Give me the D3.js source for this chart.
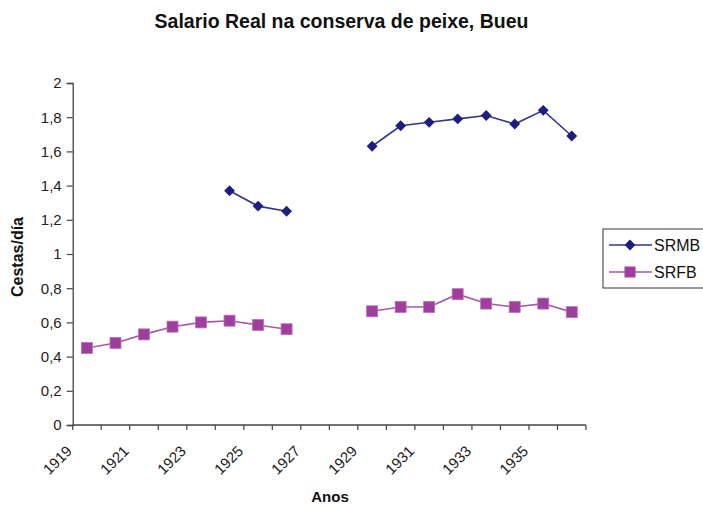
<!DOCTYPE html>
<html><head><meta charset="utf-8">
<script src="https://cdnjs.cloudflare.com/ajax/libs/d3/7.8.5/d3.min.js"></script>
<style>body{margin:0;background:#fff}svg{display:block}text{font-family:"Liberation Sans",Arial,sans-serif}</style>
</head><body>
<script>
const years = [1919,1920,1921,1922,1923,1924,1925,1926,1927,1928,1929,1930,1931,1932,1933,1934,1935,1936];
const yearLabels = ["1919","1921","1923","1925","1927","1929","1931","1933","1935"];
const srmb = [null,null,null,null,null,1.37,1.28,1.25,null,null,1.63,1.75,1.77,1.79,1.81,1.76,1.84,1.69];
const srfb = [0.45,0.48,0.53,0.575,0.60,0.61,0.585,0.56,null,null,0.665,0.69,0.69,0.765,0.71,0.69,0.71,0.66];
const yTicks = [0,0.2,0.4,0.6,0.8,1,1.2,1.4,1.6,1.8,2];
const seriesNames = ["SRMB","SRFB"];

const W=703,H=509;
const svg=d3.select("body").append("svg").attr("width",W).attr("height",H);
const x=d3.scaleBand().domain(years).range([72.7,586]).padding(0);
const y=d3.scaleLinear().domain([0,2]).range([425,83]);
const axisColor="#444";
const fmt=d=>String(d).replace(".",",");

// y axis
const ya=svg.append("g").attr("transform","translate(72.7,0)")
  .call(d3.axisLeft(y).tickValues(yTicks).tickSize(6).tickPadding(5).tickFormat(fmt));
ya.select(".domain").attr("stroke",axisColor).attr("stroke-width",1.3);
ya.selectAll(".tick line").attr("stroke",axisColor).attr("stroke-width",1.2);
ya.selectAll(".tick text").attr("font-size",15).attr("fill","#222");

// x axis
const xa=svg.append("g").attr("transform","translate(0,425)");
xa.append("line").attr("x1",x.range()[0]).attr("x2",x.range()[1]).attr("stroke",axisColor).attr("stroke-width",1.3);
const bounds=years.map(d=>x(d)).concat([x.range()[1]]);
xa.selectAll("line.tk").data(bounds).join("line").attr("class","tk")
  .attr("x1",d=>d).attr("x2",d=>d).attr("y1",0).attr("y2",5).attr("stroke",axisColor).attr("stroke-width",1.2);
xa.selectAll("text").data(yearLabels).join("text")
  .attr("transform",d=>`translate(${x(+d)+x.bandwidth()/2-14},${27}) rotate(-45)`)
  .attr("text-anchor","end").attr("font-size",15).attr("fill","#222").text(d=>d);

// titles
svg.append("text").attr("x",341.5).attr("y",28).attr("text-anchor","middle").attr("font-size",19.5).attr("font-weight","bold").attr("fill","#111").text("Salario Real na conserva de peixe, Bueu");
svg.append("text").attr("transform","translate(23,257) rotate(-90)").attr("text-anchor","middle").attr("font-size",16).attr("font-weight","bold").attr("fill","#111").text("Cestas/día");
svg.append("text").attr("x",330).attr("y",502).attr("text-anchor","middle").attr("font-size",15).attr("font-weight","bold").attr("fill","#111").text("Anos");

const cx=d=>x(d)+x.bandwidth()/2;
const line=vals=>d3.line().defined(d=>d[1]!=null).x(d=>cx(d[0])).y(d=>y(d[1]))(years.map((yr,i)=>[yr,vals[i]]));

// SRFB
const pink="#9e3f9e";
svg.append("path").attr("d",line(srfb)).attr("fill","none").attr("stroke","#a55aa5").attr("stroke-width",1.6);
svg.selectAll("rect.m").data(years.map((yr,i)=>[yr,srfb[i]]).filter(d=>d[1]!=null)).join("rect").attr("class","m")
  .attr("x",d=>cx(d[0])-5.5).attr("y",d=>y(d[1])-5.5).attr("width",11).attr("height",11).attr("fill",pink).attr("stroke","#b872b8").attr("stroke-width",0.8);

// SRMB
const navy="#1e1e82";
svg.append("path").attr("d",line(srmb)).attr("fill","none").attr("stroke","#35358a").attr("stroke-width",1.6);
const diamond=d3.symbol().type(d3.symbolDiamond2).size(75);
svg.selectAll("path.d").data(years.map((yr,i)=>[yr,srmb[i]]).filter(d=>d[1]!=null)).join("path").attr("class","d")
  .attr("d",diamond).attr("transform",d=>`translate(${cx(d[0])},${y(d[1])})`).attr("fill",navy);

// legend
const lg=svg.append("g");
lg.append("rect").attr("x",603).attr("y",229).attr("width",110).attr("height",59).attr("fill","#fff").attr("stroke","#333").attr("stroke-width",1);
const ly=[245,272];
seriesNames.forEach((n,i)=>{
  lg.append("line").attr("x1",609).attr("x2",652).attr("y1",ly[i]).attr("y2",ly[i]).attr("stroke",i?"#a55aa5":"#35358a").attr("stroke-width",1.6);
  if(i) lg.append("rect").attr("x",630-5.5).attr("y",ly[i]-5.5).attr("width",11).attr("height",11).attr("fill",pink);
  else lg.append("path").attr("d",diamond).attr("transform",`translate(630,${ly[i]})`).attr("fill",navy);
  lg.append("text").attr("x",654).attr("y",ly[i]+6).attr("font-size",16).attr("fill","#111").text(n);
});
</script>
</body></html>
